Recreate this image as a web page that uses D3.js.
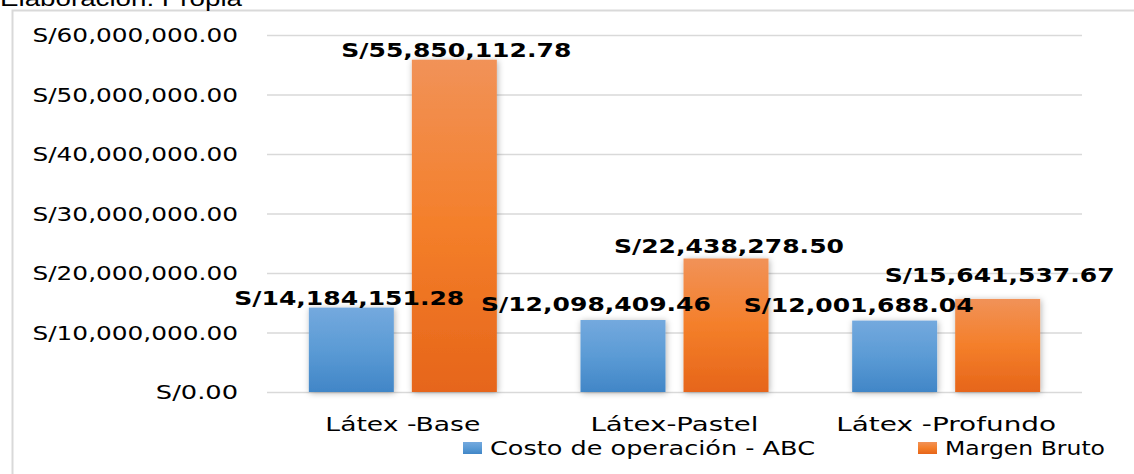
<!DOCTYPE html>
<html>
<head>
<meta charset="utf-8">
<script src="https://cdn.jsdelivr.net/npm/d3@7"></script>
<style>
  html, body { margin: 0; padding: 0; background: #fff; }
  svg { display: block; }
</style>
</head>
<body>
<svg id="chart" width="1134" height="474"></svg>
<script>
// Data
const categories = ["Látex -Base", "Látex-Pastel", "Látex -Profundo"];
const seriesNames = ["Costo de operación - ABC", "Margen Bruto"];
const costoABC = [14184151.28, 12098409.46, 12001688.04];
const margenBruto = [55850112.78, 22438278.50, 15641537.67];
const tickValues = [0, 10000000, 20000000, 30000000, 40000000, 50000000, 60000000];

// Label nudges (px) for the value labels, per series and category
const labelShift = [
  [{ dx: -2, dy: -3 }, { dx: -27, dy: -9 }, { dx: -36, dy: -9 }],
  [{ dx: 2, dy: -3 }, { dx: 3, dy: -5 }, { dx: 2, dy: -17 }]
];

const svg = d3.select("#chart");
const W = 1134, H = 474;
const plot = { left: 267, right: 1082, top: 35, bottom: 392 };

const fmt = v => "S/" + d3.format(",.2f")(v);

// Gradients and shadow
const defs = svg.append("defs");
const grads = [
  { id: "gBlue", stops: ["#74a9de", "#5b9bd5", "#4186c7"] },
  { id: "gOrange", stops: ["#f19258", "#f47f2a", "#e6651a"] }
];
grads.forEach(g => {
  const lg = defs.append("linearGradient").attr("id", g.id)
    .attr("x1", 0).attr("y1", 0).attr("x2", 0).attr("y2", 1);
  lg.append("stop").attr("offset", "0%").attr("stop-color", g.stops[0]);
  lg.append("stop").attr("offset", "50%").attr("stop-color", g.stops[1]);
  lg.append("stop").attr("offset", "100%").attr("stop-color", g.stops[2]);
});
const f = defs.append("filter").attr("id", "shadow")
  .attr("x", "-20%").attr("y", "-10%").attr("width", "140%").attr("height", "120%");
f.append("feDropShadow").attr("dx", 1).attr("dy", 1).attr("stdDeviation", 3)
  .attr("flood-color", "#000").attr("flood-opacity", 0.3);

// Frame (left and top edges visible)
svg.append("path")
  .attr("d", `M12.5,${H} L12.5,10.5 L${W},10.5`)
  .attr("fill", "none").attr("stroke", "#d9d9d9").attr("stroke-width", 2);

// Caption line above the frame
svg.append("text")
  .attr("x", 0).attr("y", 6)
  .attr("font-family", "Liberation Sans, Arial, sans-serif")
  .attr("font-size", 22).attr("fill", "#000")
  .attr("textLength", 242).attr("lengthAdjust", "spacingAndGlyphs")
  .text("Elaboración: Propia");

// Scales
const y = d3.scaleLinear().domain([0, 60000000]).range([plot.bottom, plot.top]);
const x0 = d3.scaleBand().domain(categories).range([plot.left, plot.right]).padding(0);
const groupW = 188;
const x1 = d3.scaleBand().domain(seriesNames)
  .range([(x0.bandwidth() - groupW) / 2, (x0.bandwidth() + groupW) / 2])
  .paddingInner(0.175).paddingOuter(0);

// Gridlines + y tick labels
const yAxis = d3.axisLeft(y).tickValues(tickValues).tickSize(-(plot.right - plot.left))
  .tickFormat(fmt).tickPadding(29);
const gy = svg.append("g").attr("transform", `translate(${plot.left},0)`).call(yAxis);
gy.select(".domain").remove();
gy.selectAll(".tick line").attr("stroke", "#d9d9d9").attr("stroke-width", 1.6);
gy.selectAll(".tick text")
  .attr("font-family", "DejaVu Sans, Verdana, sans-serif")
  .attr("font-size", 19).attr("fill", "#000")
  .attr("dy", "0.36em")
  .each(function(d) {
    const t = d3.select(this);
    const n = t.text().length;
    t.attr("textLength", n * 13.7).attr("lengthAdjust", "spacingAndGlyphs");
  });

// Category labels
const gx = svg.append("g").attr("transform", `translate(0,${plot.bottom})`)
  .call(d3.axisBottom(x0).tickSize(0).tickPadding(0));
gx.select(".domain").remove();
const catWidths = [155, 168, 220];
gx.selectAll(".tick text")
  .attr("font-family", "DejaVu Sans, Verdana, sans-serif")
  .attr("font-size", 19).attr("fill", "#000")
  .attr("y", 39).attr("dy", 0)
  .attr("textLength", (d, i) => catWidths[i]).attr("lengthAdjust", "spacingAndGlyphs");

// Bars
const seriesData = [costoABC, margenBruto];
const fills = ["url(#gBlue)", "url(#gOrange)"];
const groups = svg.append("g").selectAll("g").data(categories).join("g")
  .attr("transform", d => `translate(${x0(d)},0)`);
groups.selectAll("rect")
  .data((c, i) => seriesNames.map((s, k) => ({ s, k, v: seriesData[k][i] })))
  .join("rect")
  .attr("x", d => x1(d.s))
  .attr("y", d => y(d.v))
  .attr("width", x1.bandwidth())
  .attr("height", d => y(0) - y(d.v))
  .attr("fill", d => fills[d.k])
  .attr("filter", "url(#shadow)");

// Value labels
const labels = [];
categories.forEach((c, i) => {
  seriesNames.forEach((s, k) => {
    const v = seriesData[k][i];
    labels.push({ v, k, i, x: x0(c) + x1(s) + x1.bandwidth() / 2, y: y(v) });
  });
});
svg.append("g").selectAll("text").data(labels).join("text")
  .attr("x", d => d.x + labelShift[d.k][d.i].dx)
  .attr("y", d => d.y + labelShift[d.k][d.i].dy)
  .attr("text-anchor", "middle")
  .attr("font-family", "DejaVu Sans, Verdana, sans-serif")
  .attr("font-weight", "bold").attr("font-size", 20).attr("fill", "#000")
  .attr("textLength", 230).attr("lengthAdjust", "spacingAndGlyphs")
  .text(d => fmt(d.v));

// Legend
const legendItems = [
  { name: seriesNames[0], fill: fills[0], x: 463, w: 325 },
  { name: seriesNames[1], fill: fills[1], x: 918, w: 160 }
];
const lg = svg.append("g").selectAll("g").data(legendItems).join("g")
  .attr("transform", d => `translate(${d.x},442)`);
lg.append("rect").attr("width", 19).attr("height", 12).attr("fill", d => d.fill);
lg.append("text").attr("x", 27).attr("y", 13)
  .attr("font-family", "DejaVu Sans, Verdana, sans-serif")
  .attr("font-size", 19).attr("fill", "#000")
  .attr("textLength", d => d.w).attr("lengthAdjust", "spacingAndGlyphs")
  .text(d => d.name);
</script>
</body>
</html>
